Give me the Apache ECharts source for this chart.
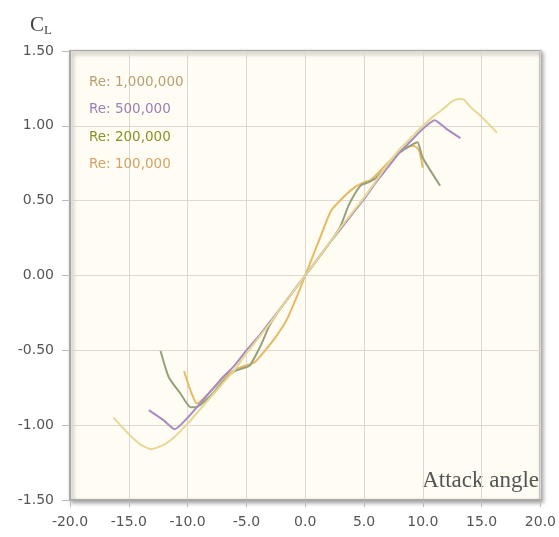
<!DOCTYPE html>
<html>
<head>
<meta charset="utf-8">
<script src="https://cdn.jsdelivr.net/npm/echarts@6/dist/echarts.min.js"></script>
<style>
  html, body { margin: 0; padding: 0; background: #fff; }
  #chart { width: 559px; height: 537px; }
</style>
</head>
<body>
<div id="chart"></div>
<script>
// lift coefficient vs attack angle
var seriesNames = ['Re: 1,000,000', 'Re: 500,000', 'Re: 200,000', 'Re: 100,000'];

var re1000k = [
    [-16.3, -0.95], [-15, -1.06], [-14, -1.13], [-13.1, -1.16], [-12, -1.13], [-11, -1.07],
    [-10, -0.99], [-9, -0.9], [-8, -0.81], [-7, -0.72], [-6, -0.63], [-5, -0.52], [-4, -0.42],
    [-3, -0.32], [-2, -0.21], [-1, -0.105], [0, 0], [1, 0.105], [2, 0.21], [3, 0.32], [4, 0.42],
    [5, 0.52], [6, 0.63], [7, 0.74], [8, 0.84], [9, 0.92], [10, 1.0], [11, 1.07], [12, 1.13],
    [12.4, 1.16], [13.1, 1.18], [13.5, 1.175], [14, 1.13], [15, 1.06], [16.3, 0.955]
];
var re500k = [
    [-13.3, -0.9], [-12, -0.97], [-11.1, -1.027], [-10, -0.95], [-9, -0.86], [-8, -0.77],
    [-7, -0.68], [-6, -0.6], [-5, -0.5], [-4, -0.41], [-3, -0.31], [-2, -0.21], [-1, -0.105],
    [0, 0], [1, 0.105], [2, 0.21], [3, 0.31], [4, 0.41], [5, 0.51], [6, 0.62], [7, 0.72],
    [8, 0.82], [9, 0.9], [10, 0.98], [11, 1.038], [12, 0.98], [13.2, 0.918]
];
var re200k = [
    [-12.3, -0.505], [-11.6, -0.68], [-10.6, -0.79], [-9.75, -0.88], [-9.3, -0.88], [-8, -0.8],
    [-7, -0.71], [-6, -0.64], [-5.3, -0.62], [-4.7, -0.6], [-3.8, -0.47], [-3, -0.33],
    [-2, -0.21], [0, 0], [2, 0.21], [3, 0.33], [3.7, 0.47], [4.7, 0.6], [5.3, 0.62], [6, 0.65],
    [7, 0.73], [8, 0.82], [9, 0.87], [9.55, 0.89], [9.97, 0.79], [11.47, 0.6]
];
var re100k = [
    [-10.3, -0.64], [-9.7, -0.78], [-9.2, -0.855], [-8, -0.77], [-7, -0.69], [-6, -0.63],
    [-5, -0.6], [-4.3, -0.58], [-3.4, -0.5], [-2.5, -0.41], [-1.6, -0.3], [-0.6, -0.12], [0, 0],
    [0.7, 0.14], [1.5, 0.3], [2.2, 0.433], [3.2, 0.52], [4.2, 0.589], [5, 0.622], [5.6, 0.64],
    [6.5, 0.71], [7.5, 0.79], [8.5, 0.85], [9.1, 0.867], [9.4, 0.86], [9.7, 0.833], [10, 0.72]
];

var lineColors = ['#e6d894', '#a98bc2', '#96a07a', '#e8b963'];
var textColors = ['#b8a074', '#9b80b5', '#8c9028', '#d3a466'];
var allData = [re1000k, re500k, re200k, re100k];

var chart = echarts.init(document.getElementById('chart'));

var series = [];
for (var i = 0; i < allData.length; i++) {
    series.push({
        name: seriesNames[i],
        type: 'line',
        data: allData[i],
        showSymbol: false,
        smooth: 0.2,
        lineStyle: { color: lineColors[i], width: 2 },
        itemStyle: { color: lineColors[i] },
        z: 10 - i
    });
}

chart.setOption({
    animation: false,
    title: {
        text: '{c|C}{l|L}',
        left: 25,
        top: 9,
        textStyle: {
            rich: {
                c: { fontFamily: 'Liberation Serif', fontSize: 21, fontWeight: 'normal', color: '#444' },
                l: { fontFamily: 'Liberation Serif', fontSize: 13, fontWeight: 'normal', color: '#444', padding: [10, 0, 0, 0] }
            }
        }
    },
    legend: {
        orient: 'vertical',
        left: 79,
        top: 70,
        icon: 'none',
        itemWidth: 0,
        itemHeight: 14,
        itemGap: 13.5,
        selectedMode: false,
        textStyle: { fontFamily: 'DejaVu Sans', fontSize: 13.5 },
        data: seriesNames.map(function (n, i) {
            return { name: n, textStyle: { color: textColors[i] } };
        })
    },
    grid: {
        left: 70,
        right: 16,
        top: 51,
        bottom: 37,
        show: true,
        backgroundColor: '#fffcf3',
        borderColor: '#a8a8a8',
        borderWidth: 2,
        shadowColor: 'rgba(0,0,0,0.35)',
        shadowBlur: 4,
        shadowOffsetX: 2,
        shadowOffsetY: 2
    },
    xAxis: {
        type: 'value',
        min: -20,
        max: 20,
        interval: 5,
        axisLine: { show: true, onZero: false, lineStyle: { color: '#a8a8a8', width: 2 } },
        axisTick: { show: true, length: 7, lineStyle: { color: '#bbb' } },
        axisLabel: {
            margin: 15,
            color: '#555',
            fontFamily: 'DejaVu Sans',
            fontSize: 14,
            formatter: function (v) { return v.toFixed(1); }
        },
        splitLine: { show: true, lineStyle: { color: '#ddd8d0', width: 1 } }
    },
    yAxis: {
        type: 'value',
        min: -1.5,
        max: 1.5,
        interval: 0.5,
        axisLine: { show: true, onZero: false, lineStyle: { color: '#a8a8a8', width: 2 } },
        axisTick: { show: true, length: 8, lineStyle: { color: '#bbb' } },
        axisLabel: {
            margin: 16,
            color: '#555',
            fontFamily: 'DejaVu Sans',
            fontSize: 14,
            formatter: function (v) { return v.toFixed(2); }
        },
        splitLine: { show: true, lineStyle: { color: '#ddd8d0', width: 1 } }
    },
    graphic: [{
        type: 'text',
        right: 20,
        top: 469,
        style: {
            text: 'Attack angle',
            font: '23px "Liberation Serif"',
            fill: '#555'
        }
    }],
    series: series
});
</script>
</body>
</html>
